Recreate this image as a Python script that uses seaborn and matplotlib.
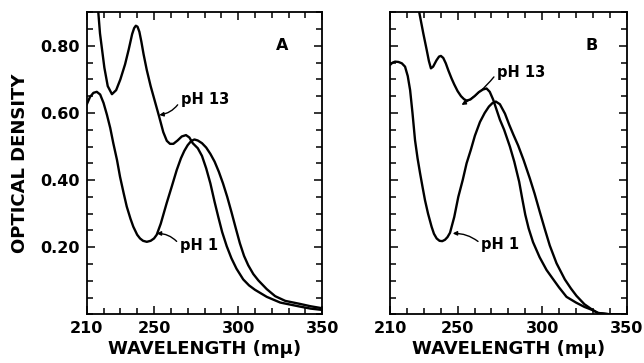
import numpy as np
import pandas as pd
import matplotlib
matplotlib.use("Agg")
import matplotlib.pyplot as plt
import seaborn as sns
from matplotlib.ticker import MultipleLocator, FixedLocator

# ---------------- data ----------------
# Panel A
a_ph13_x = [216.4, 216.9, 217.9, 220.5, 222.5, 225.0, 227.5, 230.0, 232.8, 235.0, 237.0, 238.2,
            239.2, 240.2, 241.3, 242.5, 243.8, 245.7, 248.0, 250.5, 253.0, 255.5, 257.6, 259.5,
            261.5, 264.0, 266.5, 269.0, 271.0, 273.0, 276.0, 278.5, 281.0, 283.5, 286.0, 288.2,
            290.5, 293.2, 296.0, 299.0, 303.0, 306.5, 310.0, 317.0, 325.0, 336.7, 343.0, 350.0]
a_ph13_y = [0.95, 0.90, 0.837, 0.735, 0.68, 0.656, 0.668, 0.70, 0.745, 0.79, 0.835, 0.853,
            0.860, 0.857, 0.842, 0.812, 0.775, 0.728, 0.68, 0.635, 0.59, 0.543, 0.517, 0.508,
            0.508, 0.518, 0.530, 0.534, 0.527, 0.51, 0.495, 0.472, 0.435, 0.39, 0.335, 0.29,
            0.245, 0.203, 0.167, 0.136, 0.104, 0.086, 0.073, 0.052, 0.035, 0.023, 0.017, 0.013]
a_ph1_x = [210.0, 212.0, 214.0, 216.0, 218.0, 220.0, 222.0, 224.0, 225.8, 228.0, 229.8, 232.0,
           233.8, 236.0, 237.7, 240.0, 241.7, 243.5, 245.7, 248.0, 250.0, 251.6, 254.0, 257.5,
           260.5, 263.5, 266.0, 268.0, 270.0, 272.0, 274.0, 276.0, 278.5, 281.0, 283.5, 286.0,
           288.5, 291.0, 293.5, 296.0, 298.5, 301.0, 303.5, 306.0, 309.0, 312.0, 317.0, 322.0,
           328.0, 336.7, 343.0, 350.0]
a_ph1_y = [0.625, 0.648, 0.660, 0.663, 0.655, 0.630, 0.595, 0.555, 0.51, 0.46, 0.41, 0.36,
           0.321, 0.285, 0.261, 0.237, 0.226, 0.219, 0.216, 0.219, 0.226, 0.237, 0.27, 0.331,
           0.38, 0.43, 0.465, 0.487, 0.504, 0.516, 0.521, 0.518, 0.51, 0.497, 0.478, 0.455,
           0.425, 0.39, 0.35, 0.305, 0.258, 0.212, 0.174, 0.146, 0.12, 0.101, 0.075, 0.054,
           0.04, 0.031, 0.024, 0.018]

# Panel B
b_ph13_x = [226.2, 226.8, 227.3, 229.7, 231.7, 233.0, 234.2, 235.5, 237.5, 239.0, 240.1, 241.5,
            243.0, 244.5, 246.4, 248.0, 250.0, 252.0, 253.8, 255.3, 257.5, 260.0, 262.5, 265.0,
            267.1, 269.0, 271.0, 273.0, 275.0, 277.5, 280.9, 283.5, 286.4, 288.2, 290.0, 292.0,
            294.6, 298.5, 302.6, 306.0, 310.0, 314.4, 320.0, 325.0, 330.1, 333.0, 340.0, 350.0]
b_ph13_y = [0.97, 0.93, 0.90, 0.837, 0.788, 0.755, 0.733, 0.738, 0.757, 0.768, 0.770, 0.764,
            0.748, 0.727, 0.703, 0.685, 0.665, 0.65, 0.641, 0.637, 0.64, 0.65, 0.662, 0.670,
            0.673, 0.663, 0.64, 0.61, 0.58, 0.55, 0.50, 0.455, 0.395, 0.345, 0.297, 0.256,
            0.215, 0.17, 0.132, 0.108, 0.08, 0.052, 0.035, 0.022, 0.012, 0.004, 0.0, 0.0]
b_ph1_x = [210.0, 211.5, 213.0, 215.0, 217.0, 218.9, 220.5, 221.9, 223.3, 224.8, 226.3, 227.8,
           229.3, 230.7, 232.5, 234.6, 236.0, 237.6, 239.3, 240.9, 242.5, 244.0, 245.5, 248.0,
           250.4, 253.0, 255.3, 257.8, 260.2, 263.2, 266.0, 268.5, 270.5, 272.6, 275.0, 278.0,
           280.5, 283.0, 285.8, 289.0, 292.7, 295.5, 298.6, 301.5, 304.5, 308.5, 313.4, 317.0,
           320.3, 325.0, 330.1, 333.0, 340.0, 350.0]
b_ph1_y = [0.743, 0.75, 0.753, 0.752, 0.748, 0.738, 0.71, 0.668, 0.60, 0.519, 0.465, 0.42,
           0.378, 0.34, 0.30, 0.261, 0.24, 0.226, 0.219, 0.218, 0.222, 0.23, 0.243, 0.29,
           0.350, 0.40, 0.45, 0.49, 0.532, 0.573, 0.60, 0.619, 0.629, 0.634, 0.626, 0.598,
           0.565, 0.535, 0.503, 0.46, 0.405, 0.36, 0.305, 0.255, 0.205, 0.152, 0.104, 0.077,
           0.055, 0.03, 0.012, 0.004, 0.0, 0.0]

x_ticklabels = ["210", "250", "300", "350"]
x_major = [210, 250, 300, 350]
y_major = [0.20, 0.40, 0.60, 0.80]
y_ticklabels = ["0.20", "0.40", "0.60", "0.80"]
panel_letters = ["A", "B"]
xlabel_text = "WAVELENGTH (mμ)"
ylabel_text = "OPTICAL DENSITY"

# ---------------- style ----------------
sns.set_style("ticks")
plt.rcParams["font.family"] = ["DejaVu Sans"]
plt.rcParams["font.weight"] = "bold"
for key in ["text.color", "axes.labelcolor", "xtick.color", "ytick.color", "axes.edgecolor"]:
    plt.rcParams[key] = "black"

fig = plt.figure(figsize=(6.44, 3.63), dpi=100)
axA = fig.add_axes([86.7 / 644, 1 - 314.3 / 363, (322.3 - 86.7) / 644, (314.3 - 12.3) / 363])
axB = fig.add_axes([390 / 644, 1 - 314.3 / 363, (626.7 - 390) / 644, (314.3 - 12.3) / 363])

def draw(ax, curves):
    for xs, ys, name in curves:
        df = pd.DataFrame({"wavelength": xs, "od": ys})
        sns.lineplot(data=df, x="wavelength", y="od", ax=ax, color="black",
                     linewidth=1.7, estimator=None, sort=False, legend=False)
    ax.set_xlim(210, 350)
    ax.set_ylim(0, 0.9)
    ax.xaxis.set_major_locator(FixedLocator(x_major))
    ax.xaxis.set_minor_locator(MultipleLocator(10))
    ax.yaxis.set_major_locator(FixedLocator(y_major))
    ax.yaxis.set_minor_locator(MultipleLocator(0.05))
    ax.tick_params(which="both", direction="in", top=True, right=True,
                   width=1.1, color="black", labelcolor="black", labelsize=11.5, pad=5)
    ax.tick_params(which="major", length=6)
    ax.tick_params(which="minor", length=4)
    for s in ax.spines.values():
        s.set_linewidth(1.3)
        s.set_color("black")
    ax.set_xticklabels(x_ticklabels, fontweight="bold")
    ax.set_xlabel(xlabel_text, fontsize=13, fontweight="bold", labelpad=3, color="black")
    ax.set_ylabel("")

draw(axA, [(a_ph13_x, a_ph13_y, "pH 13"), (a_ph1_x, a_ph1_y, "pH 1")])
draw(axB, [(b_ph13_x, b_ph13_y, "pH 13"), (b_ph1_x, b_ph1_y, "pH 1")])

axA.set_yticklabels(y_ticklabels, fontweight="bold")
axB.set_yticklabels([])
axA.set_ylabel(ylabel_text, fontsize=13, fontweight="bold", labelpad=8, color="black")

axA.text(326, 0.80, panel_letters[0], fontsize=11.5, fontweight="bold", ha="center", va="center")
axB.text(329, 0.80, panel_letters[1], fontsize=11.5, fontweight="bold", ha="center", va="center")

def leader(ax, label, xy, xytext, rad):
    ax.annotate(label, xy=xy, xytext=xytext, fontsize=10.5, fontweight="bold",
                ha="left", va="center", color="black",
                arrowprops=dict(arrowstyle="-|>", color="black", lw=1.0,
                                mutation_scale=6, shrinkA=0, shrinkB=0,
                                relpos=(0, 0.5),
                                connectionstyle=f"arc3,rad={rad}"))

leader(axA, "pH 13", (253.1, 0.594), (266.0, 0.639), -0.25)
leader(axA, "pH 1", (251.6, 0.241), (265.4, 0.206), 0.25)
leader(axB, "pH 13", (252.3, 0.624), (273.4, 0.72), -0.1)
leader(axB, "pH 1", (247.1, 0.241), (264.0, 0.209), 0.2)

fig.savefig("out.png", dpi=100)
